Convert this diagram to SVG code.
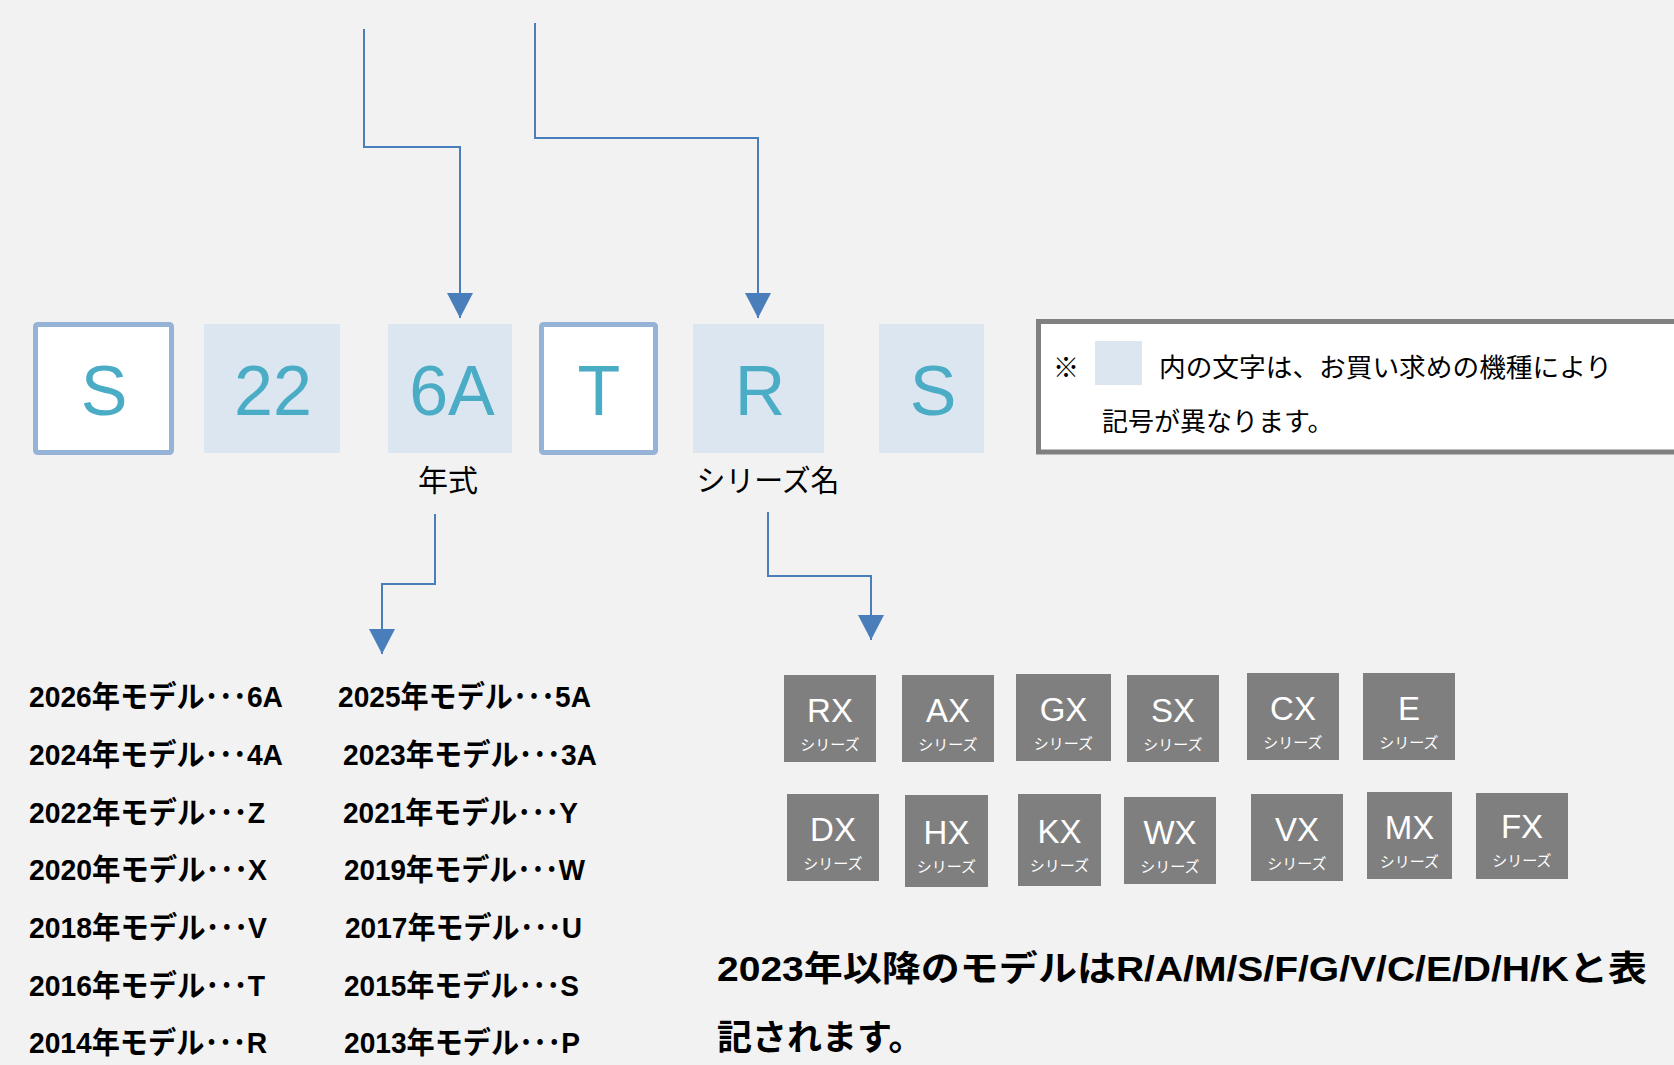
<svg xmlns="http://www.w3.org/2000/svg" width="1674" height="1065" viewBox="0 0 1674 1065">
<defs>
<style>
.bg{fill:#f2f2f2}
.code-b{fill:#ffffff;stroke:#95b3d7;stroke-width:5}
.code-f{fill:#dce6f1}
.code-t{font-family:"Liberation Sans",Arial,sans-serif;font-size:70px;fill:#4bacc6;text-anchor:middle}
.lbl{font-family:"Noto Sans CJK JP",sans-serif;font-size:30px;fill:#000;text-anchor:middle}
.conn{fill:none;stroke:#4a7ebb;stroke-width:2}
.yr{font-family:"Liberation Sans","Noto Sans CJK JP",sans-serif;font-weight:bold;font-size:30px;fill:#000}
.ser{fill:#7f7f7f}
.ser-t{font-family:"Liberation Sans",Arial,sans-serif;font-size:33px;fill:#fff;text-anchor:middle}
.ser-s{font-family:"Noto Sans CJK JP",sans-serif;font-size:15px;fill:#fff;text-anchor:middle}
.note{font-family:"Noto Sans CJK JP",sans-serif;font-size:26px;fill:#000}
.big{font-family:"Liberation Sans","Noto Sans CJK JP",sans-serif;font-weight:bold;font-size:35px;fill:#000}
</style>
<marker id="arr" markerUnits="userSpaceOnUse" markerWidth="26" markerHeight="26" viewBox="0 0 25 26" refX="25" refY="13" orient="auto">
<path d="M0,0 L25,13 L0,26 z" fill="#4a7ebb"/>
</marker>
</defs>
<rect class="bg" x="0" y="0" width="1674" height="1065"/>

<g id="connectors">
<path class="conn" d="M364,29 V147 H460 V318" marker-end="url(#arr)"/>
<path class="conn" d="M535,23 V138 H758 V318" marker-end="url(#arr)"/>
<path class="conn" d="M435,514 V584 H382 V654" marker-end="url(#arr)"/>
<path class="conn" d="M768,512 V576 H871 V640" marker-end="url(#arr)"/>
</g>

<g id="code-S1"><rect class="code-b" x="35.5" y="324.5" width="136" height="128" rx="2"/><text class="code-t" x="104" y="415">S</text></g>
<g id="code-22"><rect class="code-f" x="204" y="324" width="136" height="129"/><text class="code-t" x="273" y="415">22</text></g>
<g id="code-6A"><rect class="code-f" x="388" y="324" width="124" height="129"/><text class="code-t" x="452" y="415">6A</text></g>
<g id="code-T"><rect class="code-b" x="541.5" y="324.5" width="114" height="128" rx="2"/><text class="code-t" x="599" y="415">T</text></g>
<g id="code-R"><rect class="code-f" x="693" y="324" width="131" height="129"/><text class="code-t" x="760" y="415">R</text></g>
<g id="code-S2"><rect class="code-f" x="879" y="324" width="105" height="129"/><text class="code-t" x="933" y="415">S</text></g>

<g id="label-year"><text class="lbl" x="448" y="491">年式</text></g>
<g id="label-series"><text class="lbl" x="768" y="491" textLength="143" lengthAdjust="spacingAndGlyphs">シリーズ名</text></g>

<g id="note">
<rect x="1038.5" y="321.5" width="700" height="130.5" fill="#ffffff" stroke="#808080" stroke-width="5"/>
<text class="note" x="1053" y="377">※</text>
<rect x="1095" y="341" width="47" height="44" fill="#dce6f1"/>
<text class="note" x="1159" y="377" textLength="453" lengthAdjust="spacingAndGlyphs">内の文字は、お買い求めの機種により</text>
<text class="note" x="1102" y="431">記号が異なります。</text>
</g>

<g id="year-list">
<text class="yr" x="29" y="707" textLength="254" lengthAdjust="spacingAndGlyphs">2026年モデル･･･6A</text>
<text class="yr" x="29" y="765" textLength="254" lengthAdjust="spacingAndGlyphs">2024年モデル･･･4A</text>
<text class="yr" x="29" y="823" textLength="236" lengthAdjust="spacingAndGlyphs">2022年モデル･･･Z</text>
<text class="yr" x="29" y="880" textLength="238" lengthAdjust="spacingAndGlyphs">2020年モデル･･･X</text>
<text class="yr" x="29" y="938" textLength="238" lengthAdjust="spacingAndGlyphs">2018年モデル･･･V</text>
<text class="yr" x="29" y="996" textLength="236" lengthAdjust="spacingAndGlyphs">2016年モデル･･･T</text>
<text class="yr" x="29" y="1053" textLength="238" lengthAdjust="spacingAndGlyphs">2014年モデル･･･R</text>
<text class="yr" x="338" y="707" textLength="253" lengthAdjust="spacingAndGlyphs">2025年モデル･･･5A</text>
<text class="yr" x="343" y="765" textLength="254" lengthAdjust="spacingAndGlyphs">2023年モデル･･･3A</text>
<text class="yr" x="343" y="823" textLength="235" lengthAdjust="spacingAndGlyphs">2021年モデル･･･Y</text>
<text class="yr" x="344" y="880" textLength="241" lengthAdjust="spacingAndGlyphs">2019年モデル･･･W</text>
<text class="yr" x="345" y="938" textLength="237" lengthAdjust="spacingAndGlyphs">2017年モデル･･･U</text>
<text class="yr" x="344" y="996" textLength="235" lengthAdjust="spacingAndGlyphs">2015年モデル･･･S</text>
<text class="yr" x="344" y="1053" textLength="236" lengthAdjust="spacingAndGlyphs">2013年モデル･･･P</text>
</g>

<g id="series-RX"><rect class="ser" x="784" y="675" width="92" height="87"/><text class="ser-t" x="830" y="722">RX</text><text class="ser-s" x="830" y="750">シリーズ</text></g>
<g id="series-AX"><rect class="ser" x="902" y="675" width="92" height="87"/><text class="ser-t" x="948" y="722">AX</text><text class="ser-s" x="948" y="750">シリーズ</text></g>
<g id="series-GX"><rect class="ser" x="1016" y="674" width="95" height="87"/><text class="ser-t" x="1063.5" y="721">GX</text><text class="ser-s" x="1063.5" y="749">シリーズ</text></g>
<g id="series-SX"><rect class="ser" x="1127" y="675" width="92" height="87"/><text class="ser-t" x="1173" y="722">SX</text><text class="ser-s" x="1173" y="750">シリーズ</text></g>
<g id="series-CX"><rect class="ser" x="1247" y="673" width="92" height="87"/><text class="ser-t" x="1293" y="720">CX</text><text class="ser-s" x="1293" y="748">シリーズ</text></g>
<g id="series-E"><rect class="ser" x="1363" y="673" width="92" height="87"/><text class="ser-t" x="1409" y="720">E</text><text class="ser-s" x="1409" y="748">シリーズ</text></g>

<g id="series-DX"><rect class="ser" x="787" y="794" width="92" height="87"/><text class="ser-t" x="833" y="841">DX</text><text class="ser-s" x="833" y="869">シリーズ</text></g>
<g id="series-HX"><rect class="ser" x="905" y="795" width="83" height="92"/><text class="ser-t" x="946.5" y="844">HX</text><text class="ser-s" x="946.5" y="872">シリーズ</text></g>
<g id="series-KX"><rect class="ser" x="1018" y="794" width="83" height="92"/><text class="ser-t" x="1059.5" y="843">KX</text><text class="ser-s" x="1059.5" y="871">シリーズ</text></g>
<g id="series-WX"><rect class="ser" x="1124" y="797" width="92" height="87"/><text class="ser-t" x="1170" y="844">WX</text><text class="ser-s" x="1170" y="872">シリーズ</text></g>
<g id="series-VX"><rect class="ser" x="1251" y="794" width="92" height="87"/><text class="ser-t" x="1297" y="841">VX</text><text class="ser-s" x="1297" y="869">シリーズ</text></g>
<g id="series-MX"><rect class="ser" x="1367" y="792" width="85" height="87"/><text class="ser-t" x="1409.5" y="839">MX</text><text class="ser-s" x="1409.5" y="867">シリーズ</text></g>
<g id="series-FX"><rect class="ser" x="1476" y="793" width="92" height="86"/><text class="ser-t" x="1522" y="838">FX</text><text class="ser-s" x="1522" y="866">シリーズ</text></g>

<g id="footnote">
<text class="big" x="717" y="981" textLength="930" lengthAdjust="spacingAndGlyphs">2023年以降のモデルはR/A/M/S/F/G/V/C/E/D/H/Kと表</text>
<text class="big" x="717" y="1050">記されます。</text>
</g>
</svg>
